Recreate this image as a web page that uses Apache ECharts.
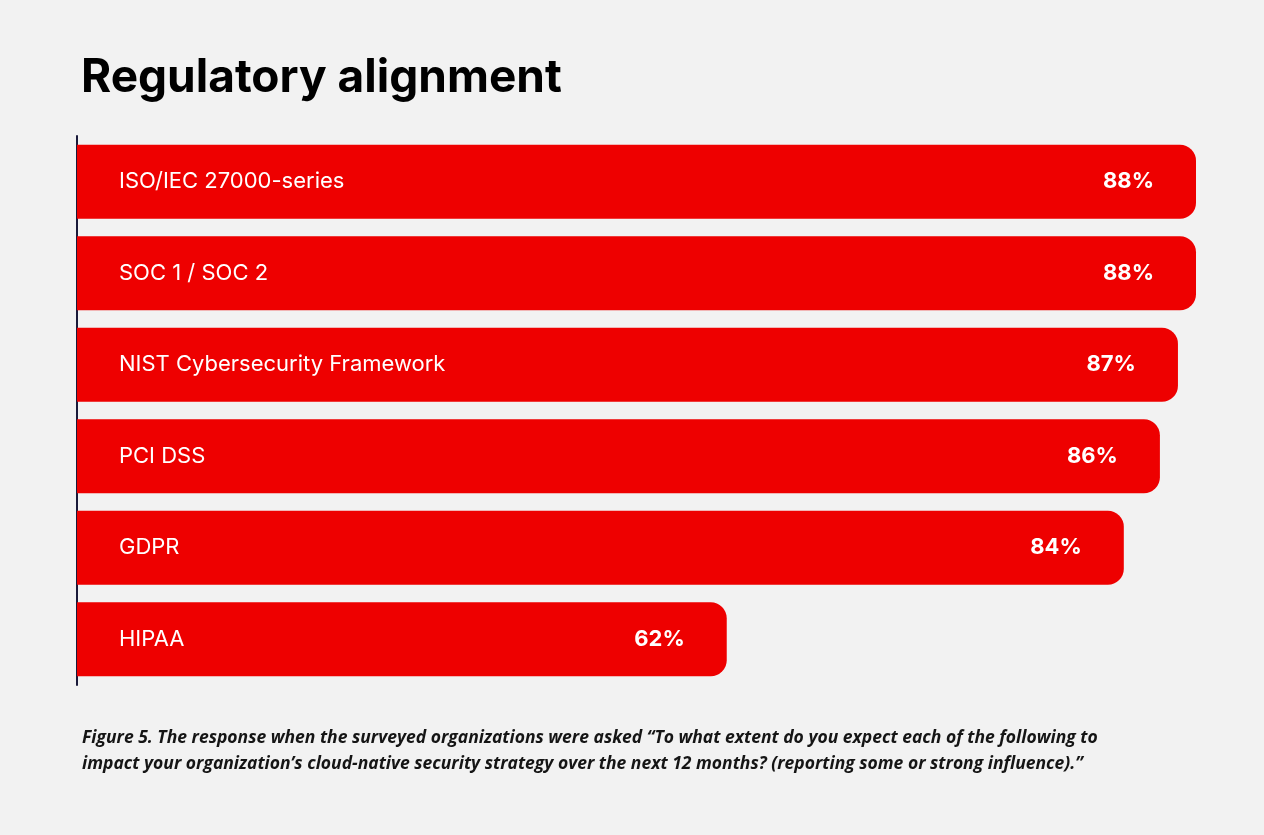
<!DOCTYPE html>
<html><head><meta charset="utf-8">
<script src="https://cdn.jsdelivr.net/npm/echarts@6/dist/echarts.min.js"></script>
<style>
html,body{margin:0;padding:0;background:#f2f2f2;}
#chart{width:1264px;height:835px;}
</style></head>
<body><div id="chart"></div>
<script>
var categories = ['ISO/IEC 27000-series', 'SOC 1 / SOC 2', 'NIST Cybersecurity Framework', 'PCI DSS', 'GDPR', 'HIPAA'];
var values = [88, 88, 87, 86, 84, 62];
var barColor = '#ee0000';

var chart = echarts.init(document.getElementById('chart'));
var option = {
    backgroundColor: '#f2f2f2',
    animation: false,
    title: [{
        text: 'Regulatory alignment',
        left: 76, top: 50,
        textStyle: { fontFamily: 'Inter', fontSize: 46, fontWeight: 'bold', color: '#000' }
    }, {
        text: '{b|Figure 5.} The response when the surveyed organizations were asked \u201cTo what extent do you expect each of the following to\nimpact your organization\u2019s cloud-native security strategy over the next 12 months? (reporting some or strong influence).\u201d',
        left: 77, top: 720,
        textStyle: {
            fontFamily: 'Open Sans', fontSize: 17.5, fontStyle: 'italic', color: '#151515', lineHeight: 26,
            rich: { b: { fontFamily: 'Open Sans', fontSize: 17.5, fontStyle: 'italic', fontWeight: 'bold', color: '#151515' } }
        }
    }],
    grid: { left: 77, right: 68, top: 136, bottom: 150 },
    xAxis: { type: 'value', min: 26, max: 88, show: false },
    yAxis: {
        type: 'category', data: categories, inverse: true,
        axisLine: { show: true, lineStyle: { color: '#1a1a3a', width: 2 } },
        axisTick: { show: false }, axisLabel: { show: false }
    },
    series: [{
        type: 'bar', data: values, barWidth: 74,
        itemStyle: { color: barColor, borderRadius: [0, 16, 16, 0] },
        label: {
            show: true, position: 'insideLeft', distance: 42, formatter: '{b}',
            color: '#fff', fontFamily: 'Inter', fontSize: 22
        },
        z: 2
    }, {
        type: 'bar', data: values, barWidth: 74, barGap: '-100%',
        itemStyle: { color: 'transparent' },
        label: {
            show: true, position: 'insideRight', distance: 42, formatter: '{c}%',
            color: '#fff', fontFamily: 'Inter', fontSize: 22, fontWeight: 'bold'
        },
        z: 3
    }]
};
chart.setOption(option);
</script>
</body></html>
